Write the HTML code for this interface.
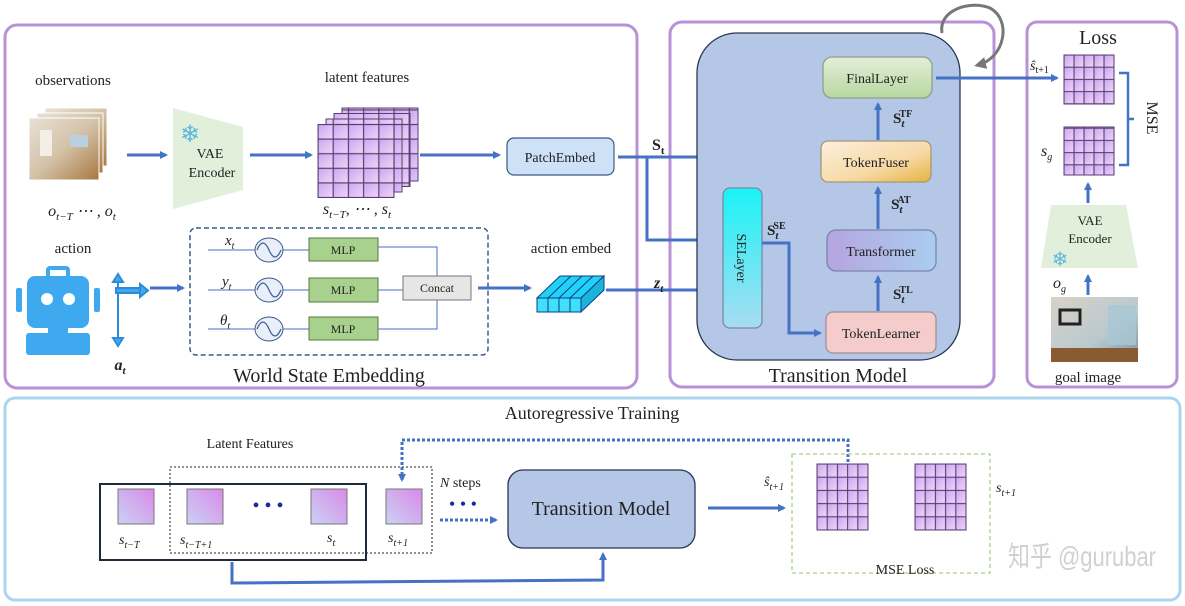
<!DOCTYPE html>
<html><head><meta charset="utf-8"><style>
body{margin:0;background:#fff}
svg{display:block}
text{font-family:"Liberation Serif",serif;fill:#222}
.it{font-style:italic}
</style></head><body>
<svg width="1185" height="606" viewBox="0 0 1185 606" xmlns="http://www.w3.org/2000/svg">
<defs>
<marker id="ar" markerWidth="8" markerHeight="8" refX="6" refY="4" orient="auto" markerUnits="userSpaceOnUse"><path d="M0,0 L8,4 L0,8 z" fill="#4472c4"/></marker>
<marker id="ag" markerWidth="12" markerHeight="12" refX="8" refY="6" orient="auto" markerUnits="userSpaceOnUse"><path d="M0,0 L12,6 L0,12 z" fill="#777"/></marker>
<linearGradient id="cell" x1="0" y1="0" x2="1" y2="1"><stop offset="0" stop-color="#c9a6f0"/><stop offset="1" stop-color="#f1d6f8"/></linearGradient>
<linearGradient id="sq" x1="1" y1="0" x2="0" y2="1"><stop offset="0" stop-color="#d98ae8"/><stop offset="1" stop-color="#c9d3f3"/></linearGradient>
<linearGradient id="gfin" x1="0" y1="0" x2="0" y2="1"><stop offset="0" stop-color="#e3efd9"/><stop offset="1" stop-color="#b7d7a0"/></linearGradient>
<linearGradient id="gtf" x1="0" y1="0" x2="1" y2="1"><stop offset="0" stop-color="#fdf0dc"/><stop offset="0.6" stop-color="#f6d9a5"/><stop offset="1" stop-color="#e6b23f"/></linearGradient>
<linearGradient id="gse" x1="0" y1="0" x2="0" y2="1"><stop offset="0" stop-color="#1af3f6"/><stop offset="1" stop-color="#a8dcf2"/></linearGradient>
<linearGradient id="gtr" x1="0" y1="0" x2="1" y2="0"><stop offset="0" stop-color="#b6a4df"/><stop offset="1" stop-color="#a9cdf0"/></linearGradient>
<linearGradient id="gimg" x1="0" y1="0" x2="1" y2="1"><stop offset="0" stop-color="#e8e1d4"/><stop offset="0.5" stop-color="#d3c2a8"/><stop offset="1" stop-color="#a9773f"/></linearGradient>
<linearGradient id="ggoal" x1="0" y1="0" x2="1" y2="1"><stop offset="0" stop-color="#d9d2c6"/><stop offset="0.6" stop-color="#b9c9cf"/><stop offset="1" stop-color="#7d8f99"/></linearGradient>
<pattern id="gridL" x="318" y="124.5" width="15.2" height="14.6" patternUnits="userSpaceOnUse"><rect width="15.2" height="14.6" fill="url(#cell)" stroke="#5a3d72" stroke-width="1.2"/></pattern>
<pattern id="gridS" x="1064" y="55" width="10" height="12.2" patternUnits="userSpaceOnUse"><rect width="10" height="12.2" fill="url(#cell)" stroke="#5a3d72" stroke-width="1.1"/></pattern>
<pattern id="gridB" x="817" y="464" width="10.2" height="13.2" patternUnits="userSpaceOnUse"><rect width="10.2" height="13.2" fill="url(#cell)" stroke="#5a3d72" stroke-width="1.1"/></pattern>
</defs>

<rect x="5" y="25" width="632" height="363" rx="12" fill="none" stroke="#b892d6" stroke-width="3"/>
<rect x="670" y="22" width="324" height="365" rx="12" fill="none" stroke="#b892d6" stroke-width="3"/>
<rect x="1027" y="22" width="150" height="365" rx="10" fill="none" stroke="#b892d6" stroke-width="3"/>
<rect x="5" y="398" width="1175" height="202" rx="10" fill="none" stroke="#a9d6ee" stroke-width="3"/>

<text x="73" y="85" font-size="15" text-anchor="middle">observations</text>
<rect x="45" y="108" width="62" height="58" fill="url(#gimg)" stroke="#fff"/>
<rect x="37" y="113" width="66" height="60" fill="url(#gimg)" stroke="#fff"/>
<rect x="29" y="118" width="70" height="62" fill="url(#gimg)" stroke="#fff"/>
<rect x="40" y="130" width="12" height="26" fill="#f3efe7"/>
<rect x="70" y="135" width="18" height="12" fill="#b9d1de"/>
<text x="82" y="216" font-size="16" class="it" text-anchor="middle">o<tspan font-size="11" dy="4">t−T</tspan><tspan dy="-4"> ⋯ , o</tspan><tspan font-size="11" dy="4">t</tspan></text>
<line x1="127" y1="155" x2="166" y2="155" stroke="#4472c4" stroke-width="3" marker-end="url(#ar)"/>
<polygon points="173,108 243,127 243,190 173,209" fill="#e2efda"/>
<text x="190" y="142" font-size="24" text-anchor="middle" style="fill:#5bb8dc">❄</text>
<text x="210" y="158" font-size="14" text-anchor="middle">VAE</text>
<text x="212" y="177" font-size="14" text-anchor="middle">Encoder</text>
<line x1="250" y1="155" x2="311" y2="155" stroke="#4472c4" stroke-width="3" marker-end="url(#ar)"/>
<text x="367" y="82" font-size="15" text-anchor="middle">latent features</text>
<g stroke="#5a3d72">
<rect x="342" y="108" width="76" height="73" fill="url(#gridL)"/>
<rect x="334" y="113.5" width="76" height="73" fill="url(#gridL)"/>
<rect x="326" y="119" width="76" height="73" fill="url(#gridL)"/>
<rect x="318" y="124.5" width="76" height="73" fill="url(#gridL)"/>
</g>
<text x="357" y="214" font-size="16" class="it" text-anchor="middle">s<tspan font-size="11" dy="4">t−T</tspan><tspan dy="-4">, ⋯ , s</tspan><tspan font-size="11" dy="4">t</tspan></text>
<line x1="420" y1="155" x2="499" y2="155" stroke="#4472c4" stroke-width="3" marker-end="url(#ar)"/>
<rect x="507" y="138" width="107" height="37" rx="7" fill="#cde1f7" stroke="#3b5b8a" stroke-width="1.2"/>
<text x="560" y="162" font-size="14" text-anchor="middle">PatchEmbed</text>

<text x="73" y="253" font-size="15" text-anchor="middle">action</text>
<g fill="#3fa9ef">
<rect x="48" y="268" width="20" height="10" rx="2" fill="none" stroke="#3fa9ef" stroke-width="4"/>
<rect x="27" y="276" width="62" height="52" rx="8"/>
<rect x="16" y="288" width="6" height="24" rx="2"/>
<rect x="94" y="288" width="6" height="24" rx="2"/>
<rect x="26" y="333" width="64" height="22" rx="3"/>
<rect x="48" y="325" width="20" height="10"/>
</g>
<circle cx="47" cy="299" r="6" fill="#fff"/><circle cx="69" cy="299" r="6" fill="#fff"/>
<g stroke="#2f8bd6" stroke-width="2" fill="#3fa9ef">
<line x1="118" y1="278" x2="118" y2="342"/>
<path d="M113,282 L118,274 L123,282 z"/><path d="M113,338 L118,346 L123,338 z"/>
<rect x="116" y="288" width="24" height="5"/><path d="M140,284 L148,290.5 L140,297 z"/>
</g>
<text x="120" y="370" font-size="16" class="it" font-weight="bold" text-anchor="middle">a<tspan font-size="11" dy="4">t</tspan></text>
<line x1="150" y1="288" x2="183" y2="288" stroke="#4472c4" stroke-width="3" marker-end="url(#ar)"/>
<rect x="190" y="228" width="298" height="127" rx="6" fill="none" stroke="#3b5b8a" stroke-width="1.5" stroke-dasharray="5,3"/>
<g font-size="15" class="it">
<text x="225" y="245">x<tspan font-size="10" dy="4">t</tspan></text>
<text x="222" y="286">y<tspan font-size="10" dy="4">t</tspan></text>
<text x="220" y="325">θ<tspan font-size="10" dy="4">t</tspan></text>
</g>
<g stroke="#4472c4" stroke-width="1" fill="none">
<line x1="208" y1="250" x2="255" y2="250"/><line x1="208" y1="290" x2="255" y2="290"/><line x1="208" y1="329" x2="255" y2="329"/>
<line x1="283" y1="250" x2="309" y2="250"/><line x1="283" y1="290" x2="309" y2="290"/><line x1="283" y1="329" x2="309" y2="329"/>
<polyline points="378,247 437,247 437,276"/><polyline points="378,329 437,329 437,300"/><line x1="378" y1="290" x2="403" y2="290"/>
</g>
<g stroke="#3b5b8a" stroke-width="1" fill="#e8eefa">
<ellipse cx="269" cy="250" rx="14" ry="12"/><ellipse cx="269" cy="290" rx="14" ry="12"/><ellipse cx="269" cy="329" rx="14" ry="12"/>
</g>
<g stroke="#3b5b8a" stroke-width="1.2" fill="none">
<path d="M257,250 q6,-14 12,0 t12,0"/><path d="M257,290 q6,-14 12,0 t12,0"/><path d="M257,329 q6,-14 12,0 t12,0"/>
</g>
<g fill="#a9d18e" stroke="#557a3e" stroke-width="1">
<rect x="309" y="238" width="69" height="23"/><rect x="309" y="278" width="69" height="24"/><rect x="309" y="317" width="69" height="23"/>
</g>
<g font-size="12" text-anchor="middle"><text x="343" y="254">MLP</text><text x="343" y="294">MLP</text><text x="343" y="333">MLP</text></g>
<rect x="403" y="276" width="68" height="24" fill="#e7e6e6" stroke="#777"/>
<text x="437" y="292" font-size="12" text-anchor="middle">Concat</text>
<line x1="478" y1="288" x2="530" y2="288" stroke="#4472c4" stroke-width="3" marker-end="url(#ar)"/>
<text x="571" y="253" font-size="15" text-anchor="middle">action embed</text>
<g stroke="#0c3d8a" stroke-width="1" fill="#22d2f4">
<polygon points="537,298 560,276 604,276 581,298"/>
<polygon points="581,298 604,276 604,290 581,312" fill="#1bb3d9"/>
<rect x="537" y="298" width="44" height="14" fill="#3fe0fa"/>
<line x1="548" y1="298" x2="548" y2="312"/><line x1="559" y1="298" x2="559" y2="312"/><line x1="570" y1="298" x2="570" y2="312"/>
<line x1="548" y1="298" x2="571" y2="276"/><line x1="559" y1="298" x2="582" y2="276"/><line x1="570" y1="298" x2="593" y2="276"/>
</g>
<text x="329" y="382" font-size="20" text-anchor="middle">World State Embedding</text>

<g stroke="#4472c4" stroke-width="3" fill="none">
<line x1="618" y1="157" x2="810" y2="157" marker-end="url(#ar)"/>
<polyline points="647,157 647,240 718,240" marker-end="url(#ar)"/>
<line x1="606" y1="290" x2="718" y2="290" marker-end="url(#ar)"/>
</g>
<text x="652" y="150" font-size="16" font-weight="bold">S<tspan font-size="11" dy="4">t</tspan></text>
<text x="654" y="288" font-size="16" font-weight="bold" class="it">z<tspan font-size="11" dy="4">t</tspan></text>

<rect x="697" y="33" width="263" height="327" rx="40" fill="#b4c7e7" stroke="#2a3550" stroke-width="1.3"/>
<path d="M942,33 C938,10 970,0 990,8 C1012,20 1005,58 978,65" fill="none" stroke="#777" stroke-width="3" marker-end="url(#ag)"/>
<rect x="823" y="57" width="109" height="41" rx="9" fill="url(#gfin)" stroke="#8fa08a" stroke-width="1.3"/>
<text x="877" y="83" font-size="14" text-anchor="middle">FinalLayer</text>
<rect x="821" y="141" width="110" height="41" rx="7" fill="url(#gtf)" stroke="#a4977a" stroke-width="1.3"/>
<text x="876" y="167" font-size="14" text-anchor="middle">TokenFuser</text>
<rect x="723" y="188" width="39" height="140" rx="7" fill="url(#gse)" stroke="#7b8aa3" stroke-width="1.3"/>
<text x="742" y="258" font-size="14" text-anchor="middle" transform="rotate(90 742 258)" dy="5">SELayer</text>
<rect x="827" y="230" width="109" height="41" rx="9" fill="url(#gtr)" stroke="#7b85a8" stroke-width="1.3"/>
<text x="881" y="256" font-size="14" text-anchor="middle">Transformer</text>
<rect x="826" y="312" width="110" height="41" rx="7" fill="#f4cccc" stroke="#a39090" stroke-width="1.3"/>
<text x="881" y="338" font-size="14" text-anchor="middle">TokenLearner</text>
<g stroke="#4472c4" stroke-width="3" fill="none">
<line x1="878" y1="140" x2="878" y2="104" marker-end="url(#ar)"/>
<line x1="878" y1="229" x2="878" y2="188" marker-end="url(#ar)"/>
<line x1="878" y1="311" x2="878" y2="277" marker-end="url(#ar)"/>
<polyline points="762,243 789,243 789,333 820,333" marker-end="url(#ar)"/>
<line x1="936" y1="78" x2="1057" y2="78" marker-end="url(#ar)"/>
</g>
<g font-size="15" font-weight="bold">
<text x="893" y="123">S<tspan class="it" font-size="11" dy="4">t</tspan><tspan font-size="10" dy="-10" dx="-5">TF</tspan></text>
<text x="891" y="209">S<tspan class="it" font-size="11" dy="4">t</tspan><tspan font-size="10" dy="-10" dx="-5">AT</tspan></text>
<text x="767" y="235">S<tspan class="it" font-size="11" dy="4">t</tspan><tspan font-size="10" dy="-10" dx="-5">SE</tspan></text>
<text x="893" y="299">S<tspan class="it" font-size="11" dy="4">t</tspan><tspan font-size="10" dy="-10" dx="-5">TL</tspan></text>
</g>
<text x="838" y="382" font-size="20" text-anchor="middle">Transition Model</text>

<text x="1098" y="44" font-size="20" text-anchor="middle">Loss</text>
<rect x="1064" y="55" width="50" height="49" fill="url(#gridS)" stroke="#5a3d72"/>
<rect x="1064" y="127" width="50" height="48" fill="url(#gridS)" stroke="#5a3d72"/>
<path d="M1119,73 L1128,73 L1128,165 L1119,165 M1128,119 L1134,119" fill="none" stroke="#4472c4" stroke-width="2.5"/>
<text x="1147" y="118" font-size="16" text-anchor="middle" transform="rotate(90 1147 118)">MSE</text>
<text x="1030" y="70" font-size="14" class="it">ŝ<tspan font-size="10" dy="3" font-style="normal">t+1</tspan></text>
<text x="1041" y="156" font-size="16" class="it">s<tspan font-size="10" dy="4">g</tspan></text>
<line x1="1088" y1="203" x2="1088" y2="184" stroke="#4472c4" stroke-width="3" marker-end="url(#ar)"/>
<polygon points="1051,205 1126,205 1138,268 1041,268" fill="#e2efda"/>
<text x="1090" y="225" font-size="13" text-anchor="middle">VAE</text>
<text x="1090" y="243" font-size="13" text-anchor="middle">Encoder</text>
<text x="1060" y="266" font-size="20" text-anchor="middle" style="fill:#5bb8dc">❄</text>
<text x="1053" y="288" font-size="16" class="it">o<tspan font-size="10" dy="4">g</tspan></text>
<line x1="1088" y1="295" x2="1088" y2="276" stroke="#4472c4" stroke-width="3" marker-end="url(#ar)"/>
<rect x="1051" y="297" width="87" height="65" fill="url(#ggoal)"/>
<rect x="1060" y="310" width="20" height="14" fill="none" stroke="#222" stroke-width="3"/>
<rect x="1108" y="305" width="28" height="40" fill="#a9c7d4" opacity="0.8"/>
<rect x="1051" y="348" width="87" height="14" fill="#8a5a32"/>
<text x="1088" y="382" font-size="15" text-anchor="middle">goal image</text>

<text x="592" y="419" font-size="18" text-anchor="middle">Autoregressive Training</text>
<text x="250" y="448" font-size="14" text-anchor="middle">Latent Features</text>
<rect x="100" y="484" width="266" height="76" fill="none" stroke="#1c2b3e" stroke-width="2"/>
<rect x="170" y="467" width="262" height="86" fill="none" stroke="#222" stroke-width="1" stroke-dasharray="2,2"/>
<g fill="url(#sq)" stroke="#777" stroke-width="1">
<rect x="118" y="489" width="36" height="35"/><rect x="187" y="489" width="36" height="35"/><rect x="311" y="489" width="36" height="35"/><rect x="386" y="489" width="36" height="35"/>
</g>
<text x="268" y="512" font-size="20" text-anchor="middle" style="fill:#1a2a9a">• • •</text>
<g font-size="14" class="it">
<text x="119" y="544">s<tspan font-size="10" dy="4">t−T</tspan></text>
<text x="180" y="544">s<tspan font-size="10" dy="4">t−T+1</tspan></text>
<text x="327" y="542">s<tspan font-size="10" dy="4">t</tspan></text>
<text x="388" y="542">s<tspan font-size="10" dy="4">t+1</tspan></text>
</g>
<polyline points="848,462 848,440 402,440 402,480" fill="none" stroke="#4472c4" stroke-width="3" stroke-dasharray="3,2" marker-end="url(#ar)"/>
<text x="440" y="487" font-size="14"><tspan class="it">N</tspan> steps</text>
<text x="463" y="510" font-size="18" text-anchor="middle" style="fill:#1a2a9a">• • •</text>
<line x1="440" y1="520" x2="496" y2="520" stroke="#4472c4" stroke-width="3" stroke-dasharray="3,2" marker-end="url(#ar)"/>
<rect x="508" y="470" width="187" height="78" rx="15" fill="#b4c7e7" stroke="#2a3550" stroke-width="1.3"/>
<text x="601" y="515" font-size="20" text-anchor="middle">Transition Model</text>
<line x1="708" y1="508" x2="784" y2="508" stroke="#4472c4" stroke-width="3" marker-end="url(#ar)"/>
<rect x="792" y="454" width="198" height="119" fill="none" stroke="#a9d18e" stroke-width="1.3" stroke-dasharray="4,3"/>
<rect x="817" y="464" width="51" height="66" fill="url(#gridB)" stroke="#5a3d72"/>
<g transform="translate(98,0)"><rect x="817" y="464" width="51" height="66" fill="url(#gridB)" stroke="#5a3d72"/></g>
<text x="764" y="486" font-size="14" class="it">ŝ<tspan font-size="10" dy="4">t+1</tspan></text>
<text x="996" y="492" font-size="14" class="it">s<tspan font-size="10" dy="4">t+1</tspan></text>
<text x="905" y="574" font-size="14" text-anchor="middle">MSE Loss</text>
<polyline points="232,562 232,583 603,580 603,554" fill="none" stroke="#4472c4" stroke-width="3" marker-end="url(#ar)"/>
<text x="1008" y="566" font-size="28" textLength="148" lengthAdjust="spacingAndGlyphs" style="fill:#c8c8c8;font-family:'Liberation Sans','Noto Sans CJK SC',sans-serif" opacity="0.85">知乎 @gurubar</text>
</svg>
</body></html>
